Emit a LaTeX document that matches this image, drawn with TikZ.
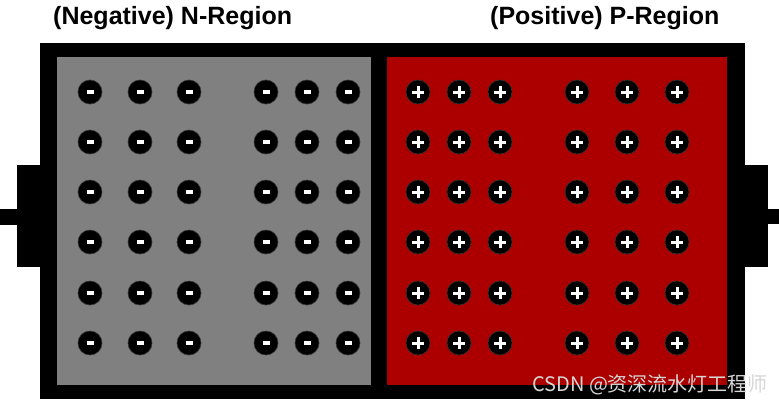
\documentclass[tikz,border=0pt]{standalone}
\usepackage{fontspec}
\setmainfont{Liberation Sans}
\newfontfamily\cjkfont{Noto Sans CJK SC}
\usepackage{xcolor}
\usepackage{tikz}
\usetikzlibrary{positioning}
\definecolor{Nreg}{RGB}{128,128,128}
\definecolor{Preg}{RGB}{172,0,0}
\definecolor{Wmark}{RGB}{215,215,215}
\tikzset{
  casing/.style={fill=black,draw=none},
  nfill/.style={fill=Nreg,draw=none},
  pfill/.style={fill=Preg,draw=none},
  carrier/.style={circle,fill=black,draw=black!80,line width=0.6pt,
                  minimum size=24pt,inner sep=0pt},
  electron/.style={carrier,path picture={
      \fill[white] ([xshift=-3.5pt,yshift=-2pt]path picture bounding box.center)
        rectangle ([xshift=3.5pt,yshift=2pt]path picture bounding box.center);}},
  hole/.style={carrier,path picture={
      \fill[white] ([xshift=-6pt,yshift=-1.5pt]path picture bounding box.center)
        rectangle ([xshift=6pt,yshift=1.5pt]path picture bounding box.center);
      \fill[white] ([xshift=-1.5pt,yshift=-6pt]path picture bounding box.center)
        rectangle ([xshift=1.5pt,yshift=6pt]path picture bounding box.center);}},
  title/.style={font=\fontsize{25}{30}\selectfont\bfseries,inner sep=0pt},
}

\begin{document}
\begin{tikzpicture}[x=1pt,y=-1pt]
  \useasboundingbox[fill=white] (0,0) rectangle (779,405);
  % casing and terminals
  \fill[casing] (40,43) rectangle (745,399);
  \fill[casing] (17,165) rectangle (40,267);
  \fill[casing] (0,209) rectangle (17,225);
  \fill[casing] (745,165) rectangle (768,267);
  \fill[casing] (768,209) rectangle (779,224);
  % regions
  \fill[nfill] (57,57) rectangle (371,385);
  \fill[pfill] (387,57) rectangle (727,385);
  % charge carriers
  \foreach \r [count=\i] in {92,142,192,242,293,343}{
    \foreach \c [count=\j] in {90,140,189,266,307,348}
      \node[electron] (e\i\j) at (\c,\r) {};
    \foreach \c [count=\j] in {418,459,500,577,627,677}
      \node[hole] (h\i\j) at (\c,\r) {};
  }
  \node[title,anchor=west] (nlab) at (53,18) {(Negative) N-Region};
  \node[title,anchor=west] (plab) at (490,18) {(Positive) P-Region};
  \node[anchor=west,inner sep=0pt,text=Wmark,font=\fontsize{20}{24}\selectfont\cjkfont]
    (wm) at (532,385) {CSDN @资深流水灯工程师};
\end{tikzpicture}
\end{document}
